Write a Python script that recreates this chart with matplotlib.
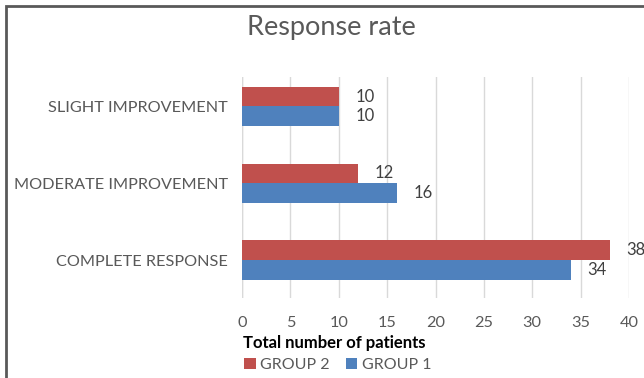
import numpy as np
import matplotlib.pyplot as plt
from matplotlib.patches import Rectangle

# dados do gráfico
categorias = ['COMPLETE RESPONSE', 'MODERATE IMPROVEMENT', 'SLIGHT IMPROVEMENT']
grupo1 = [34, 16, 10]
grupo2 = [38, 12, 10]
ticks_x = [0, 5, 10, 15, 20, 25, 30, 35, 40]

cor1 = '#4F81BD'
cor2 = '#C0504D'
cinza = '#595959'

plt.rcParams['font.family'] = ['Lato', 'DejaVu Sans']

fig = plt.figure(figsize=(6.44, 3.78), dpi=100)
W, H = 644, 378
ax = fig.add_axes([242 / W, 1 - 298 / H, (629 - 242) / W, (298 - 77) / H])

y = np.arange(len(categorias))
h = 0.255
b1 = ax.barh(y - h / 2, grupo1, height=h, color=cor1, label='GROUP 1')
b2 = ax.barh(y + h / 2, grupo2, height=h, color=cor2, label='GROUP 2')

for barras in (b1, b2):
    for r in barras:
        ax.text(r.get_width() + 1.7, r.get_y() + r.get_height() / 2,
                f'{int(r.get_width())}', va='center', ha='left',
                fontsize=12, color='#404040', clip_on=False)

ax.set_xlim(0, 40)
ax.set_ylim(-0.495, 2.384)
ax.set_xticks(ticks_x)
ax.set_yticks(y)
ax.set_yticklabels(categorias)
ax.tick_params(axis='both', length=0, labelsize=11.7, labelcolor=cinza)
ax.tick_params(axis='x', pad=13)
ax.tick_params(axis='y', pad=10)
ax.grid(axis='x', color='#D9D9D9', linewidth=1)
ax.set_axisbelow(True)
for s in ax.spines.values():
    s.set_visible(False)
ax.axvline(0, color='#D9D9D9', linewidth=1, zorder=0)

fig.text(331 / W, 1 - 28 / H, 'Response rate', ha='center', va='center',
         fontsize=19.5, color=cinza)
fig.text(243 / W, 1 - 343 / H, 'Total number of patients', ha='left',
         va='center', fontsize=12, fontweight='bold', color='black')

handles = [b2, b1]
fig.legend(handles, ['GROUP 2', 'GROUP 1'], loc='center left',
           bbox_to_anchor=(230 / W, 1 - 365 / H), ncol=2, frameon=False,
           fontsize=11.5, handlelength=0.7, handleheight=0.7,
           handletextpad=0.3, columnspacing=1.0, labelcolor=cinza)

fig.patches.append(Rectangle((6 / W, -0.1), 1.2, 1 - 6 / H + 0.1,
                             transform=fig.transFigure, fill=False,
                             edgecolor='#595959', linewidth=2))

fig.savefig('out.png', dpi=100)
